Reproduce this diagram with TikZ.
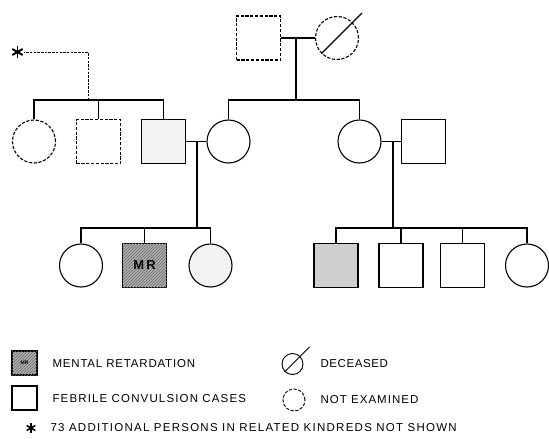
\documentclass[tikz,border=0pt]{standalone}
\usepackage{fontspec}
\setmainfont{Liberation Sans}
\usetikzlibrary{patterns,calc}
\begin{document}
\begin{tikzpicture}[x=1pt,y=-1pt, line width=1.1pt,
  sq/.style={draw, minimum size=44pt, inner sep=0pt},
  ci/.style={draw, circle, minimum size=43pt, inner sep=0pt},
  unex/.style={dash pattern=on 3.2pt off 1.6pt},
  lightstip/.style={fill=gray!10},
  densestip/.style={fill=gray!38},
  mr/.style={fill=gray!60, postaction={pattern=north east lines, pattern color=black!60}},
  lbl/.style={anchor=west, inner sep=0pt, font=\fontsize{11.5}{13}\selectfont},
  dline/.style={line width=0.8pt, dash pattern=on 2.5pt off 1.2pt}
]
\useasboundingbox (0,0) rectangle (549,439);

% generation I
\node[sq, unex] (gf) at (258.5,38) {};
\node[ci, unex] (gm) at (337,38) {};
\draw (gm.south west) -- ($(gm.south west)!1.3!(gm.north east)$);
\draw (gf.east) -- (gm.west);
\coordinate (m1) at (296,38);
\coordinate (m1d) at (296,100);

% generation II
\node[ci, unex] (a1) at (34,141.5) {};
\node[sq, unex] (a2) at (98.5,141.5) {};
\node[sq, lightstip] (a3) at (163.5,141.5) {};
\node[ci] (a4) at (228.5,141.5) {};
\node[ci] (b1) at (359.5,141.5) {};
\node[sq] (b2) at (423.5,141.5) {};

\draw (m1) -- (m1d);
\draw (a4.north) -- (a4.north |- m1d) -- (b1.north |- m1d) -- (b1.north);

% left kindred
\coordinate (lk) at (88,100);
\coordinate (lkt) at (88,52);
\coordinate (star) at (17.5,52);
\draw (a1.north) -- (a1.north |- lk) -- (a3.north |- lk) -- (a3.north);
\draw (a2.north) -- (a2.north |- lk);
\draw[dline] (lk) -- (lkt) -- ($(star)+(6,0)$);
\foreach \ang in {90,30,150}
  \draw[line width=1.9pt] ($(star)+(\ang:6)$) -- ($(star)+(\ang+180:6)$);

% marriages gen II
\draw (a3.east) -- (a4.west);
\draw (b1.east) -- (b2.west);
\coordinate (m2) at (197,141.5);
\coordinate (m2d) at (197,228);
\coordinate (m3) at (393,141.5);
\coordinate (m3d) at (393,228);
\draw (m2) -- (m2d);
\draw (m3) -- (m3d);

% generation III
\node[ci] (c1) at (81,265.5) {};
\node[sq, mr, font=\fontsize{13}{13}\selectfont\bfseries] (c2) at (144.5,265.5) {M\,R};
\node[ci, lightstip] (c3) at (210.5,265.5) {};
\node[sq, densestip] (d1) at (336,265.5) {};
\node[sq] (d2) at (401,265.5) {};
\node[sq] (d3) at (462.5,265.5) {};
\node[ci] (d4) at (527,265.5) {};

\draw (c1.north) -- (c1.north |- m2d) -- (c3.north |- m2d) -- (c3.north);
\draw (c2.north) -- (c2.north |- m2d);
\draw (d1.north) -- (d1.north |- m3d) -- (d4.north |- m3d) -- (d4.north);
\draw (d2.north) -- (d2.north |- m3d);
\draw (d3.north) -- (d3.north |- m3d);

% legend
\node[draw, mr, minimum width=25pt, minimum height=24pt, inner sep=0pt,
      font=\fontsize{5}{5}\selectfont\bfseries] (lmr) at (24.5,363) {MR};
\node[lbl] (tmr) at (52,364) {\addfontfeatures{LetterSpace=7}MENTAL RETARDATION};
\node[draw, circle, minimum size=21pt, inner sep=0pt, line width=0.9pt] (ldc) at (292.5,364) {};
\draw[line width=0.9pt] (ldc.south west) -- ($(ldc.south west)!1.6!(ldc.north east)$);
\node[lbl] (tdc) at (320,364) {\addfontfeatures{LetterSpace=5}DECEASED};
\node[draw, minimum width=25pt, minimum height=24pt, inner sep=0pt] (lfc) at (24.5,398) {};
\node[lbl] (tfc) at (52,399) {\addfontfeatures{LetterSpace=10}FEBRILE CONVULSION CASES};
\node[draw, circle, unex, minimum size=22pt, inner sep=0pt, line width=0.9pt] (lne) at (294,400) {};
\node[lbl] (tne) at (320,400) {\addfontfeatures{LetterSpace=9}NOT EXAMINED};
\coordinate (star2) at (31,428);
\foreach \ang in {90,30,150}
  \draw[line width=1.6pt] ($(star2)+(\ang:5)$) -- ($(star2)+(\ang+180:5)$);
\node[lbl] (tst) at (50,428) {\addfontfeatures{LetterSpace=11}73 ADDITIONAL PERSONS IN RELATED KINDREDS NOT SHOWN};
\end{tikzpicture}
\end{document}
